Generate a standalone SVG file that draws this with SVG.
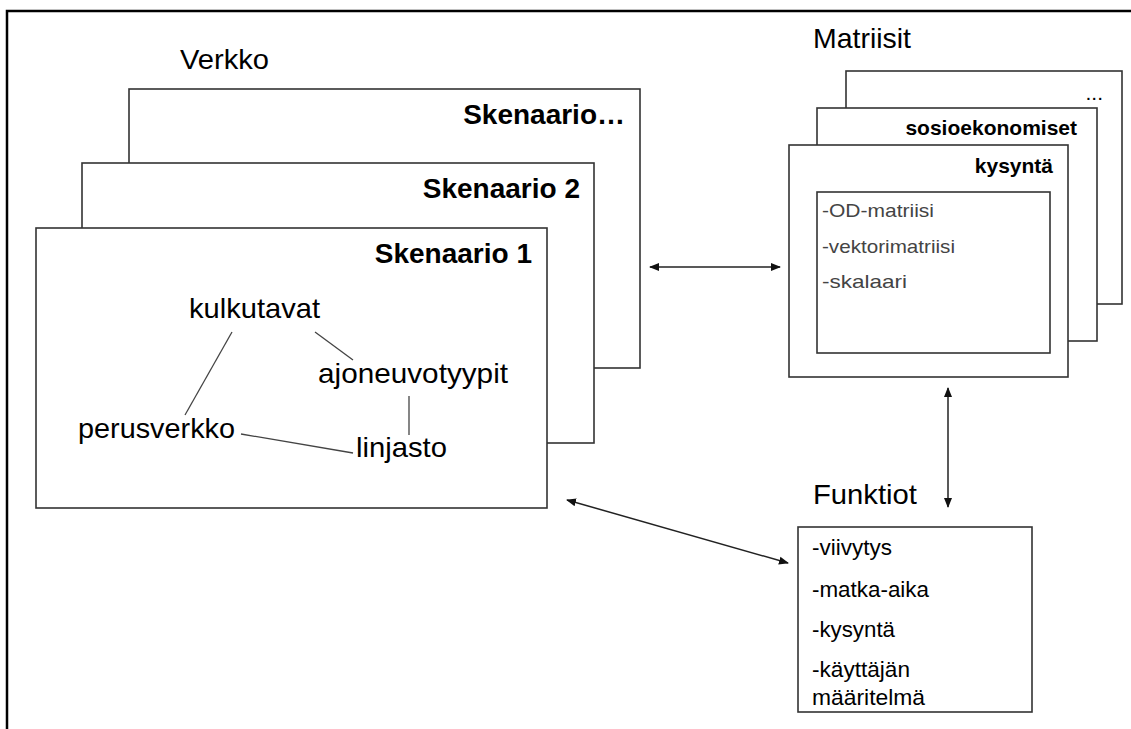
<svg xmlns="http://www.w3.org/2000/svg" width="1131" height="729" viewBox="0 0 1131 729">
<style>
  .box { fill: #fff; stroke: #333; stroke-width: 1.6; }
  .frame { fill: none; stroke: #000; stroke-width: 2.5; }
  .t { font-family: "Liberation Sans", Arial, sans-serif; fill: #000; }
  .big { font-size: 28px; }
  .bold { font-weight: bold; }
  .mid { font-size: 21px; }
  .list { font-size: 22px; }
  .gray { font-size: 19px; fill: #444; }
  .rel { stroke: #444; stroke-width: 1.3; fill: none; }
  .conn { stroke: #222; stroke-width: 1.5; fill: none; marker-start: url(#ah); marker-end: url(#ah); }
</style>
<defs>
  <marker id="ah" viewBox="0 0 10 10" refX="9" refY="5" markerWidth="10" markerHeight="10" markerUnits="userSpaceOnUse" orient="auto-start-reverse">
    <path d="M0,1 L10,5 L0,9 Z" fill="#111"/>
  </marker>
</defs>
<rect width="1131" height="729" fill="#fff"/>
<path class="frame" d="M7,729 V11 H1131"/>

<text class="t big" x="180" y="69" textLength="89" lengthAdjust="spacingAndGlyphs">Verkko</text>

<g id="skenaario-n">
  <rect class="box" x="129" y="89" width="511" height="279"/>
  <text class="t big bold" x="625" y="124" text-anchor="end">Skenaario…</text>
</g>
<g id="skenaario-2">
  <rect class="box" x="82" y="163" width="512" height="280"/>
  <text class="t big bold" x="580" y="198" text-anchor="end">Skenaario 2</text>
</g>
<g id="skenaario-1">
  <rect class="box" x="36" y="228" width="511" height="280"/>
  <text class="t big bold" x="532" y="263" text-anchor="end">Skenaario 1</text>
</g>

<g id="verkko-relations">
  <line class="rel" x1="232" y1="332" x2="185" y2="415"/>
  <line class="rel" x1="315" y1="332" x2="353" y2="360"/>
  <line class="rel" x1="409" y1="396" x2="409" y2="435"/>
  <line class="rel" x1="241" y1="434" x2="353" y2="453"/>
</g>
<g id="kulkutavat"><text class="t big" x="189" y="318" textLength="131" lengthAdjust="spacingAndGlyphs">kulkutavat</text></g>
<g id="ajoneuvotyypit"><text class="t big" x="318" y="383" textLength="190" lengthAdjust="spacingAndGlyphs">ajoneuvotyypit</text></g>
<g id="perusverkko"><text class="t big" x="78" y="438" textLength="157" lengthAdjust="spacingAndGlyphs">perusverkko</text></g>
<g id="linjasto"><text class="t big" x="356" y="457" textLength="91" lengthAdjust="spacingAndGlyphs">linjasto</text></g>

<text class="t big" x="813" y="48" textLength="98" lengthAdjust="spacingAndGlyphs">Matriisit</text>

<g id="matriisi-muut">
  <rect class="box" x="846" y="71" width="276" height="233"/>
  <text class="t mid" x="1103" y="100" text-anchor="end">...</text>
</g>
<g id="matriisi-sosioekonomiset">
  <rect class="box" x="817" y="108" width="280" height="233"/>
  <text class="t mid bold" x="1077" y="135" text-anchor="end">sosioekonomiset</text>
</g>
<g id="matriisi-kysynta">
  <rect class="box" x="789" y="145" width="279" height="232"/>
  <text class="t mid bold" x="1053" y="173" text-anchor="end">kysyntä</text>
  <rect class="box" x="817" y="192" width="233" height="161"/>
  <text class="t gray" x="822" y="217" textLength="112" lengthAdjust="spacingAndGlyphs">-OD-matriisi</text>
  <text class="t gray" x="822" y="253" textLength="133" lengthAdjust="spacingAndGlyphs">-vektorimatriisi</text>
  <text class="t gray" x="822" y="288" textLength="85" lengthAdjust="spacingAndGlyphs">-skalaari</text>
</g>

<g id="funktiot">
  <text class="t big" x="813" y="504" textLength="104" lengthAdjust="spacingAndGlyphs">Funktiot</text>
  <rect class="box" x="798" y="527" width="234" height="185"/>
  <text class="t list" x="812" y="555" textLength="80" lengthAdjust="spacingAndGlyphs">-viivytys</text>
  <text class="t list" x="812" y="597" textLength="117" lengthAdjust="spacingAndGlyphs">-matka-aika</text>
  <text class="t list" x="812" y="637" textLength="83" lengthAdjust="spacingAndGlyphs">-kysyntä</text>
  <text class="t list" x="812" y="677" textLength="98" lengthAdjust="spacingAndGlyphs">-käyttäjän</text>
  <text class="t list" x="812" y="705" textLength="113" lengthAdjust="spacingAndGlyphs">määritelmä</text>
</g>

<g id="connectors">
  <line class="conn" x1="650" y1="267" x2="780" y2="267"/>
  <line class="conn" x1="567" y1="500" x2="788" y2="563"/>
  <line class="conn" x1="948" y1="388" x2="948" y2="507"/>
</g>
</svg>
